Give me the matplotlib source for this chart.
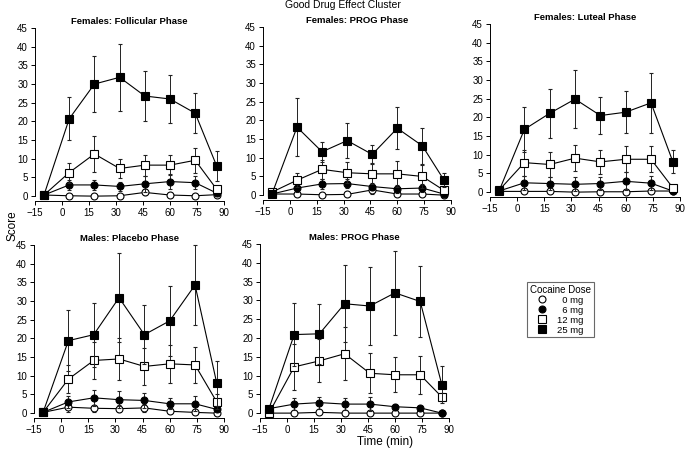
import matplotlib
matplotlib.use("Agg")
import matplotlib.pyplot as plt
from matplotlib.lines import Line2D

plt.rcParams["font.family"] = ["Liberation Sans", "DejaVu Sans"]

times = [-10, 4, 18, 32, 46, 60, 74, 86]
doses = ["  0 mg", "  6 mg", "12 mg", "25 mg"]

titles = [
    "Females: Follicular Phase",
    "Females: PROG Phase",
    "Females: Luteal Phase",
    "Males: Placebo Phase",
    "Males: PROG Phase",
]

# means per panel, per dose (0, 6, 12, 25 mg)
fol_mean = [
    [0.3, 0.1, 0.0, 0.1, 1.0, 0.3, 0.1, 0.4],
    [0.3, 3.0, 3.0, 2.6, 3.3, 3.9, 3.6, 0.8],
    [0.3, 6.3, 11.3, 7.4, 8.3, 8.3, 9.6, 1.8],
    [0.3, 20.7, 30.0, 31.8, 26.8, 26.0, 22.2, 8.0],
]
fol_err = [
    [0.2, 0.4, 0.3, 0.4, 0.8, 0.4, 0.3, 0.3],
    [0.2, 1.3, 1.4, 1.2, 2.2, 2.0, 1.7, 0.5],
    [0.2, 2.7, 4.8, 2.6, 2.8, 2.6, 3.4, 1.0],
    [0.2, 5.8, 7.5, 9.0, 6.7, 6.5, 5.3, 4.0],
]
fprog_mean = [
    [0.3, 0.3, 0.1, 0.2, 1.4, 0.3, 0.3, 0.0],
    [0.3, 1.9, 3.0, 3.1, 2.3, 1.7, 1.9, 0.3],
    [0.8, 4.0, 6.9, 6.0, 5.7, 5.7, 5.0, 1.3],
    [0.3, 18.2, 11.6, 14.6, 10.9, 17.9, 13.2, 4.1],
]
fprog_err = [
    [0.2, 0.3, 0.2, 0.3, 1.0, 0.3, 0.3, 0.2],
    [0.3, 1.0, 1.3, 1.3, 1.0, 1.0, 1.0, 0.3],
    [0.5, 1.9, 2.6, 2.8, 2.8, 3.5, 3.0, 1.0],
    [0.3, 7.7, 2.7, 4.6, 2.6, 5.6, 4.8, 1.8],
]
lut_mean = [
    [0.2, 0.2, 0.2, 0.0, 0.1, 0.1, 0.3, 0.3],
    [0.3, 2.5, 2.3, 2.1, 2.3, 2.9, 2.4, 0.3],
    [0.5, 7.9, 7.4, 9.1, 8.1, 8.8, 8.8, 1.2],
    [0.3, 16.8, 21.1, 24.9, 20.5, 21.4, 23.9, 8.2],
]
lut_err = [
    [0.2, 0.3, 0.3, 0.2, 0.3, 0.3, 0.3, 0.2],
    [0.2, 1.8, 1.7, 1.9, 1.7, 2.4, 1.8, 0.3],
    [0.3, 3.5, 3.4, 3.5, 3.3, 3.5, 3.5, 0.8],
    [0.3, 6.0, 6.5, 7.8, 5.0, 5.6, 8.0, 3.0],
]
mplac_mean = [
    [0.2, 1.6, 1.3, 1.2, 1.4, 0.5, 0.2, 0.0],
    [0.2, 3.0, 4.1, 3.6, 3.4, 2.5, 2.5, 1.0],
    [0.2, 9.1, 14.1, 14.5, 12.5, 13.2, 12.9, 3.0],
    [0.2, 19.4, 21.0, 30.9, 21.0, 24.7, 34.3, 8.0],
]
mplac_err = [
    [0.2, 1.2, 1.0, 1.0, 1.0, 0.5, 0.3, 0.2],
    [0.2, 1.7, 2.2, 2.2, 1.9, 1.5, 2.0, 0.4],
    [0.2, 3.7, 5.0, 5.7, 5.0, 5.0, 4.8, 2.0],
    [0.2, 8.1, 8.6, 11.9, 7.9, 9.3, 10.7, 6.0],
]
mprog_mean = [
    [0.0, 0.0, 0.2, 0.0, 0.0, 0.0, 0.0, 0.0],
    [1.2, 2.4, 2.8, 2.4, 2.4, 1.7, 1.4, 0.0],
    [0.0, 12.3, 13.9, 15.8, 10.6, 10.2, 10.2, 4.3],
    [1.2, 20.9, 21.1, 29.1, 28.5, 32.0, 29.7, 7.6],
]
mprog_err = [
    [0.1, 0.1, 0.3, 0.1, 0.1, 0.1, 0.1, 0.1],
    [0.5, 1.6, 1.6, 1.5, 1.8, 0.8, 0.5, 0.1],
    [0.3, 6.1, 5.7, 7.0, 5.3, 4.7, 5.0, 1.0],
    [0.8, 8.4, 8.0, 10.3, 10.4, 11.2, 9.5, 4.9],
]

means = [fol_mean, fprog_mean, lut_mean, mplac_mean, mprog_mean]
errs = [fol_err, fprog_err, lut_err, mplac_err, mprog_err]

# marker style per dose: (marker, facecolor, size)
styles = [("o", "white", 5.0), ("o", "black", 5.0), ("s", "white", 5.3), ("s", "black", 5.3)]

W, H = 685, 454
# panel boxes in pixels: left, right, top (y=45), bottom (spine)
boxes = [
    (35, 224, 28, 201),
    (263, 451, 27, 200),
    (490, 680, 24, 197),
    (34, 224, 245, 418),
    (260, 449, 244, 418),
]

fig = plt.figure(figsize=(W / 100, H / 100), dpi=100)

for i, (l, r, t, b) in enumerate(boxes):
    ax = fig.add_axes([l / W, 1 - b / H, (r - l) / W, (b - t) / H])
    for d in range(4):
        m, fc, ms = styles[d]
        ax.errorbar(times, means[i][d], yerr=errs[i][d], color="black",
                    ecolor="#222222", elinewidth=0.7, capsize=1.5, capthick=0.7,
                    lw=0.8, marker=m, ms=ms, mfc=fc, mec="black", mew=0.8,
                    clip_on=False, zorder=2 + d)
    ax.set_xlim(-15, 90)
    ax.set_ylim(-1.3, 45)
    ax.set_xticks(range(-15, 91, 15))
    ax.set_yticks(range(0, 46, 5))
    ax.spines["top"].set_visible(False)
    ax.spines["right"].set_visible(False)
    ax.spines["left"].set_bounds(0, 45)
    ax.spines["left"].set_linewidth(0.7)
    ax.spines["bottom"].set_linewidth(0.7)
    ax.tick_params(labelsize=7, width=0.7, length=3, pad=2)
    ax.set_title(titles[i], fontsize=6.8, fontweight="bold", pad=3)

fig.text(343 / W, 1 - 5 / H, "Good Drug Effect Cluster", ha="center", va="center", fontsize=7.5)
fig.text(385 / W, 1 - 442 / H, "Time (min)", ha="center", va="center", fontsize=8.5)
fig.text(12 / W, 1 - 226 / H, "Score", ha="center", va="center", fontsize=8.5, rotation=90)

handles = [Line2D([], [], ls="none", marker=m, ms=ms, mfc=fc, mec="black", mew=0.8)
           for m, fc, ms in styles]
leg = fig.legend(handles, doses, title="Cocaine Dose", loc="upper left",
                 bbox_to_anchor=(527 / W, 1 - 282 / H), fontsize=6.8, title_fontsize=7,
                 frameon=True, fancybox=False, edgecolor="#444444", handlelength=1.0,
                 handletextpad=1.0, labelspacing=0.1, borderpad=0.3, borderaxespad=0)
leg.get_frame().set_linewidth(0.8)

fig.savefig("out.png", dpi=100)
